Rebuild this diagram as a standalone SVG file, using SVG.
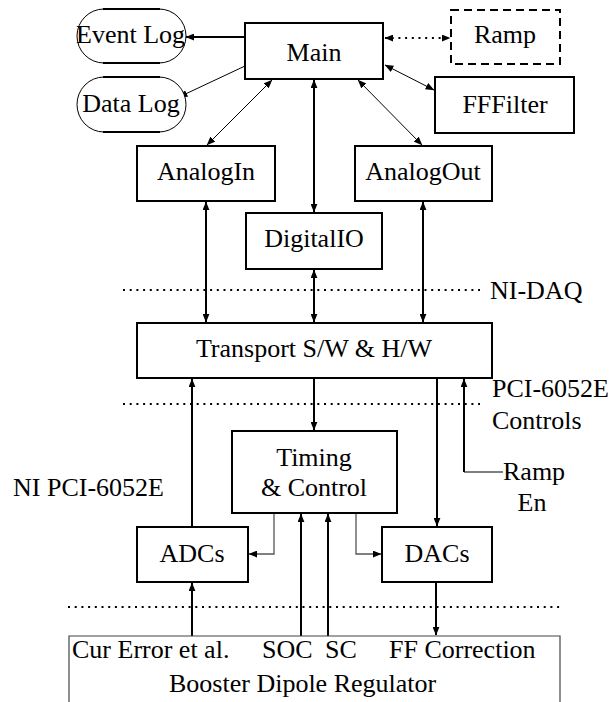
<svg xmlns="http://www.w3.org/2000/svg" width="612" height="702" viewBox="0 0 612 702">
<style>
text{font-family:"Liberation Serif","Times New Roman",serif;font-size:26px;fill:#000}
.m{text-anchor:middle}
.box{fill:#fff;stroke:#000;stroke-width:2}
.dash{fill:#fff;stroke:#000;stroke-width:2;stroke-dasharray:8 5}
.oval{fill:#fff;stroke:#000;stroke-width:1}
.thk{stroke:#000;stroke-width:2;fill:none}
.thn{stroke:#000;stroke-width:1;fill:none}
.gry{stroke:#555;stroke-width:1.3;fill:none}
.dot{stroke:#000;stroke-width:2;fill:none;stroke-dasharray:2 4.7}
</style>
<defs>
<marker id="ah" viewBox="0 0 10 8" refX="9.5" refY="4" markerWidth="9" markerHeight="7" markerUnits="userSpaceOnUse" orient="auto-start-reverse">
<path d="M0,0 L10,4 L0,8 z" fill="#000"/>
</marker>
</defs>
<rect width="612" height="702" fill="#fff"/>
<g id="separators">
<line class="dot" x1="123" y1="290" x2="480" y2="290"/>
<line class="dot" x1="123" y1="404" x2="480" y2="404"/>
<line class="dot" x1="68" y1="607" x2="562" y2="607"/>
</g>
<g id="connectors">
<line class="thk" x1="245" y1="37" x2="186" y2="37" marker-end="url(#ah)"/>
<line class="thn" x1="245" y1="66" x2="179" y2="97" marker-end="url(#ah)"/>
<line class="dot" x1="385" y1="38" x2="450" y2="38" marker-start="url(#ah)" marker-end="url(#ah)" stroke-dasharray="2 4"/>
<line class="thn" x1="385" y1="65" x2="434" y2="90" marker-start="url(#ah)" marker-end="url(#ah)"/>
<line class="thn" x1="272" y1="80" x2="207" y2="145" marker-start="url(#ah)" marker-end="url(#ah)"/>
<line class="thk" x1="314" y1="80" x2="314" y2="212" marker-start="url(#ah)" marker-end="url(#ah)"/>
<line class="thn" x1="358" y1="80" x2="422" y2="145" marker-start="url(#ah)" marker-end="url(#ah)"/>
<line class="thk" x1="206" y1="202" x2="206" y2="322" marker-start="url(#ah)" marker-end="url(#ah)"/>
<line class="thk" x1="314" y1="270" x2="314" y2="322" marker-start="url(#ah)" marker-end="url(#ah)"/>
<line class="thk" x1="423" y1="202" x2="423" y2="322" marker-start="url(#ah)" marker-end="url(#ah)"/>
<line class="thk" x1="314" y1="379" x2="314" y2="430" marker-end="url(#ah)"/>
<line class="thk" x1="192" y1="526" x2="192" y2="379" marker-end="url(#ah)"/>
<line class="thk" x1="437" y1="379" x2="437" y2="526" marker-end="url(#ah)"/>
<line class="gry" x1="503" y1="472" x2="464" y2="472"/>
<line class="thk" x1="464" y1="472" x2="464" y2="379" marker-end="url(#ah)"/>
<polyline class="gry" points="274,514 274,554 249,554" marker-end="url(#ah)"/>
<polyline class="gry" points="356,514 356,554 381,554" marker-end="url(#ah)"/>
<line class="thk" x1="301" y1="636" x2="301" y2="514" marker-end="url(#ah)"/>
<line class="thk" x1="328" y1="636" x2="328" y2="514" marker-end="url(#ah)"/>
<line class="thk" x1="192" y1="636" x2="192" y2="583" marker-end="url(#ah)"/>
<line class="thk" x1="436" y1="583" x2="436" y2="635" marker-end="url(#ah)"/>
</g>
<g id="eventlog">
<rect class="oval" x="77" y="9" width="109" height="54" rx="27" ry="27"/>
<line class="thk" x1="103" y1="9" x2="160" y2="9"/>
<line class="thk" x1="103" y1="63" x2="160" y2="63"/>
<text x="76" y="43">Event Log</text>
</g>
<g id="datalog">
<rect class="oval" x="77" y="77" width="109" height="55" rx="27" ry="27.5"/>
<line class="thk" x1="103" y1="77" x2="160" y2="77"/>
<line class="thk" x1="103" y1="132" x2="160" y2="132"/>
<text class="m" x="131" y="112">Data Log</text>
</g>
<g id="main">
<rect class="box" x="245" y="23" width="138" height="56"/>
<text class="m" x="314" y="61">Main</text>
</g>
<g id="ramp">
<rect class="dash" x="451" y="10" width="109" height="54"/>
<text class="m" x="505" y="43">Ramp</text>
</g>
<g id="fffilter">
<rect class="box" x="435" y="77" width="139" height="56"/>
<text class="m" x="505" y="113">FFFilter</text>
</g>
<g id="analogin">
<rect class="box" x="137" y="146" width="138" height="55"/>
<text class="m" x="206" y="180">AnalogIn</text>
</g>
<g id="analogout">
<rect class="box" x="355" y="146" width="137" height="55"/>
<text class="m" x="423" y="180">AnalogOut</text>
</g>
<g id="digitalio">
<rect class="box" x="246" y="213" width="136" height="56"/>
<text class="m" x="314" y="247">DigitalIO</text>
</g>
<g id="transport">
<rect class="box" x="137" y="323" width="355" height="55"/>
<text class="m" x="314" y="357">Transport S/W &amp; H/W</text>
</g>
<g id="timing">
<rect class="box" x="232" y="431" width="165" height="82"/>
<text class="m" x="314" y="466">Timing</text>
<text class="m" x="314" y="496">&amp; Control</text>
</g>
<g id="adcs">
<rect class="box" x="137" y="527" width="111" height="55"/>
<text class="m" x="192" y="562">ADCs</text>
</g>
<g id="dacs">
<rect class="box" x="382" y="527" width="110" height="55"/>
<text class="m" x="437" y="562">DACs</text>
</g>
<g id="regulator">
<path d="M69,712 V636 H560 V712" fill="none" stroke="#444" stroke-width="1.2"/>
<text x="72" y="658">Cur Error et al.</text>
<text x="262" y="658">SOC</text>
<text x="325" y="658">SC</text>
<text x="389" y="658">FF Correction</text>
<text x="169" y="692">Booster Dipole Regulator</text>
</g>
<g id="labels">
<text x="490" y="299">NI-DAQ</text>
<text x="492" y="397">PCI-6052E</text>
<text x="492" y="429">Controls</text>
<text x="503" y="480">Ramp</text>
<text class="m" x="532" y="511">En</text>
<text x="164" y="496" text-anchor="end">NI PCI-6052E</text>
</g>
</svg>
